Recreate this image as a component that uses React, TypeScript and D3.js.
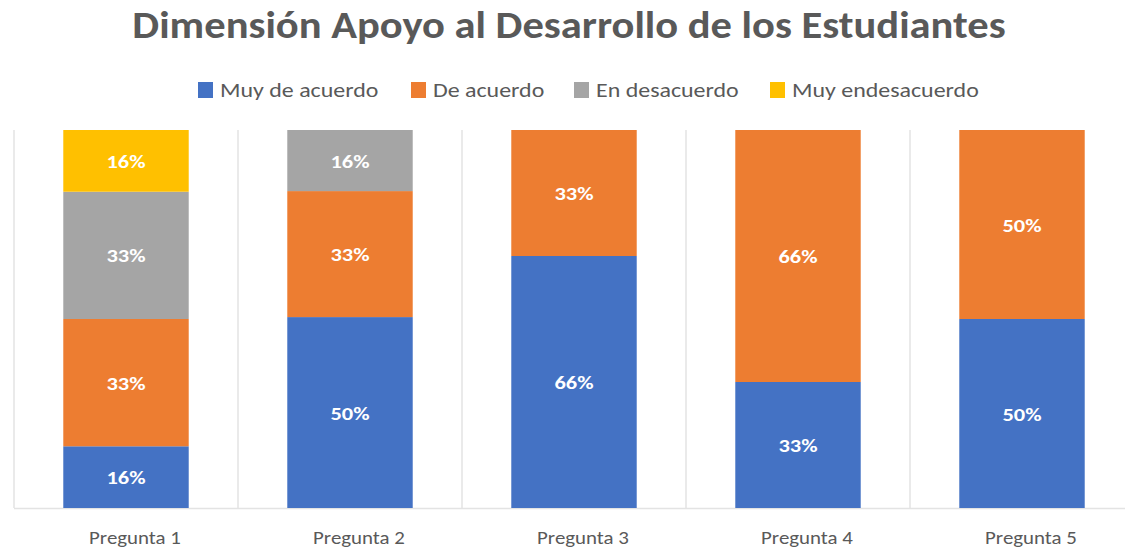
import React from "react";
import * as d3 from "d3";

const categories = ["Pregunta 1", "Pregunta 2", "Pregunta 3", "Pregunta 4", "Pregunta 5"];
const seriesNames = ["Muy de acuerdo", "De acuerdo", "En desacuerdo", "Muy endesacuerdo"];
const muyDeAcuerdo = [16, 50, 66, 33, 50];
const deAcuerdo = [33, 33, 33, 66, 50];
const enDesacuerdo = [33, 16, 0, 0, 0];
const muyEnDesacuerdo = [16, 0, 0, 0, 0];
const colors = ["#4472C4", "#ED7D31", "#A5A5A5", "#FFC000"];

const W = 1125;
const H = 550;
const left = 14;
const step = 224;
const top = 130;
const bottom = 508;
const SX = 1.1;

function T(props: any) {
  const { x, y, children, sx = SX, ...rest } = props;
  return (
    <text transform={`translate(${x},${y}) scale(${sx},1)`} {...rest}>
      {children}
    </text>
  );
}

export default function App() {
  const seriesValues = [muyDeAcuerdo, deAcuerdo, enDesacuerdo, muyEnDesacuerdo];
  const rows = categories.map((c, i) => {
    const r: any = { cat: c };
    seriesNames.forEach((s, j) => (r[s] = seriesValues[j][i]));
    return r;
  });
  const stack = d3.stack<any>().keys(seriesNames).offset(d3.stackOffsetExpand);
  const stacked = stack(rows);

  const x = d3
    .scaleBand<string>()
    .domain(categories)
    .range([left, left + step * categories.length])
    .paddingInner(0.44)
    .paddingOuter(0.22);
  const y = d3.scaleLinear().domain([0, 1]).range([bottom, top]);

  const font = "Carlito, Calibri, 'Open Sans', 'Liberation Sans', sans-serif";
  const legendX = [198, 411, 574, 770];

  return (
    <svg width={W} height={H} style={{ position: "absolute", left: 0, top: 0, background: "#fff" }} fontFamily={font}>
      <T x={569} y={38} textAnchor="middle" fontSize={38.5} fontWeight="bold" fill="#595959" sx={1.105}>
        Dimensión Apoyo al Desarrollo de los Estudiantes
      </T>
      {seriesNames.map((s, j) => (
        <g key={s} transform={`translate(${legendX[j]},0)`}>
          <rect x={0} y={82} width={15} height={16} fill={colors[j]} />
          <T x={22} y={97} fontSize={21} fill="#595959" sx={1.14}>
            {s}
          </T>
        </g>
      ))}
      {d3.range(categories.length + 1).map((i) => (
        <line key={i} x1={left + i * step} x2={left + i * step} y1={top} y2={bottom} stroke="#E3E3E3" strokeWidth={1.5} />
      ))}
      <line x1={left} x2={W} y1={bottom + 0.5} y2={bottom + 0.5} stroke="#E3E3E3" strokeWidth={1.5} />
      {stacked.map((layer, j) => (
        <g key={layer.key}>
          {layer.map((d, i) => {
            const h = y(d[0]) - y(d[1]);
            if (h <= 0) return null;
            return (
              <g key={i}>
                <rect x={x(categories[i])} y={y(d[1])} width={x.bandwidth()} height={h} fill={colors[j]} />
                <T
                  x={(x(categories[i]) as number) + x.bandwidth() / 2}
                  y={(y(d[0]) + y(d[1])) / 2 + 7}
                  textAnchor="middle"
                  fontSize={19}
                  fontWeight="bold"
                  fill="#fff"
                  sx={1.18}
                >
                  {seriesValues[j][i]}%
                </T>
              </g>
            );
          })}
        </g>
      ))}
      {categories.map((c) => (
        <T key={c} x={(x(c) as number) + x.bandwidth() / 2 + 9} y={544} textAnchor="middle" fontSize={19} fill="#595959">
          {c}
        </T>
      ))}
    </svg>
  );
}
